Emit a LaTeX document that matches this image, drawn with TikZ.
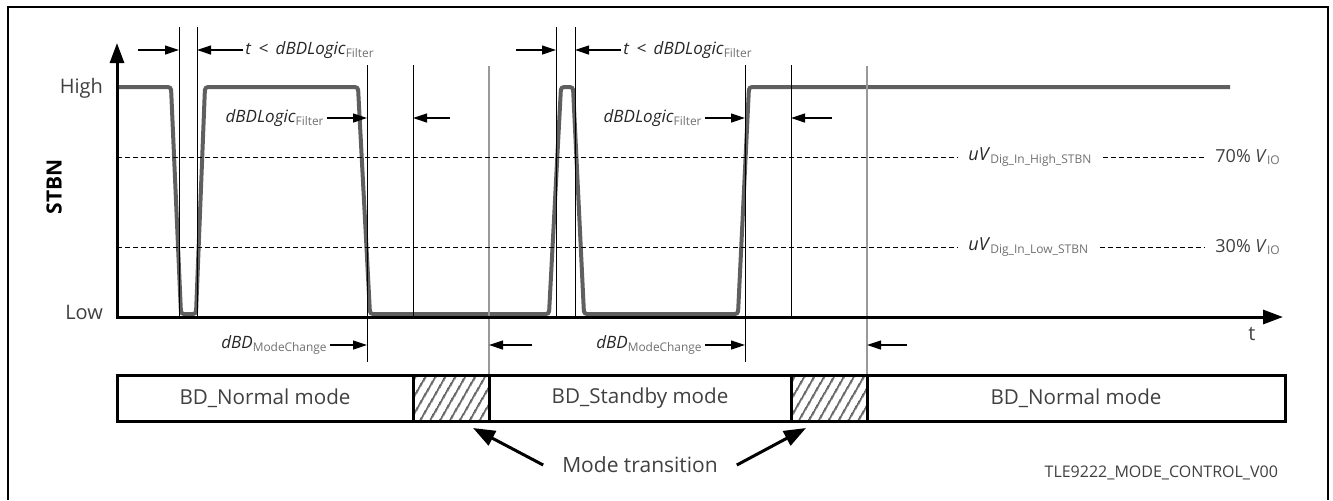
\documentclass[tikz,border=0pt]{standalone}
\usepackage{fontspec}
\setmainfont{Open Sans}
\usepackage{xcolor}
\usepackage{tikz}
\usetikzlibrary{arrows.meta,patterns.meta,positioning}

\definecolor{sigcol}{HTML}{5F5F5F}
\definecolor{txtcol}{HTML}{404040}
\definecolor{subcol}{HTML}{707070}
\newcommand{\lowsub}[1]{\textsubscript{\color{subcol}#1}}

\tikzset{
  sigline/.style={line width=2pt, sigcol, rounded corners=1.5pt},
  axisline/.style={line width=1.5pt, -{Triangle[length=10pt,width=7pt]}},
  marker/.style={line width=0.5pt},
  graymarker/.style={line width=0.6pt, black!40},
  dimarrow/.style={line width=0.6pt, -{Triangle[length=7pt,width=4.5pt]}},
  threshold/.style={line width=0.5pt, dash pattern=on 2.5pt off 1.5pt},
  lbl/.style={font=\fontsize{8.5}{10}\selectfont, text=black!85, inner sep=1pt},
  lvllbl/.style={lbl, font=\fontsize{9}{10}\selectfont, inner xsep=5pt, anchor=west},
  axlbl/.style={text=txtcol, font=\fontsize{10}{12}\selectfont},
  modebox/.style={draw, line width=1.5pt, minimum height=23pt, inner sep=0pt, outer sep=0pt,
    font=\fontsize{10.3}{12}\selectfont, text=txtcol},
  transbox/.style={modebox, pattern={Lines[angle=60,distance=4pt,line width=1.1pt]}, pattern color=black!60},
  bigarrow/.style={line width=1.5pt, -{Triangle[length=11pt,width=8pt]}}
}

\begin{document}
\begin{tikzpicture}[x=0.5pt, y=-0.5pt]
    \useasboundingbox (0,0) rectangle (1333,500);
    \draw[line width=1pt] (8,500) -- (8,7) -- (1328,7) -- (1328,500);

    % STBN signal
    \draw[sigline] (117,87) -- (171,87) -- (181,314) -- (196,314) -- (205,87) -- (358,87)
        -- (370,314) -- (549,314) -- (561,87) -- (573,87) -- (584,314) -- (738,314)
        -- (749,87) -- (1230,87);

    % time markers
    \foreach \x/\n in {179/ga, 197/gb, 556/gc, 575/gd}
        \draw[marker] (\x,27) coordinate (\n) -- (\x,317);
    \foreach \x/\n in {367/fa, 745/fc}
        \draw[marker] (\x,65) coordinate (\n) -- (\x,362);
    \foreach \x/\n in {413/fb, 791/fd}
        \draw[marker] (\x,65) coordinate (\n) -- (\x,317);
    \foreach \x/\n in {489/ta, 867/tb}
        \draw[graymarker] (\x,66) coordinate (\n) -- (\x,421);

    % axes
    \draw[axisline] (117,318) -- (117,43);
    \draw[axisline] (116,317) -- (1283,317);
    \node (high) [axlbl, anchor=east] at (110,88) {High};
    \node (low) [axlbl, anchor=east] at (110,312) {Low};
    \node (stbn) [rotate=90, font=\bfseries\fontsize{10.5}{12}\selectfont] at (54,187) {STBN};
    \node (tlbl) [axlbl] at (1252,334) {t};

    % threshold levels
    \node (hiname) [lvllbl] at (958,157) {\textit{uV}\lowsub{Dig\_In\_High\_STBN}};
    \node (hipct) [lvllbl, text=txtcol] at (1205,157) {70\% \textit{V}\lowsub{IO}};
    \draw[threshold] (117,157) -- (hiname.west);
    \draw[threshold] (hiname.east) -- (hipct.west);
    \node (loname) [lvllbl] at (958,247) {\textit{uV}\lowsub{Dig\_In\_Low\_STBN}};
    \node (lopct) [lvllbl, text=txtcol] at (1205,247) {30\% \textit{V}\lowsub{IO}};
    \draw[threshold] (117,247) -- (loname.west);
    \draw[threshold] (loname.east) -- (lopct.west);

    % filter times
    \node (glitchA) [lbl, anchor=west] at (243,50) {\textit{t} \,<\, \textit{dBDLogic}\lowsub{Filter}};
    \node (glitchB) [lbl, anchor=west] at (621,50) {\textit{t} \,<\, \textit{dBDLogic}\lowsub{Filter}};
    \draw[dimarrow] ([xshift=-20.5pt]ga |- glitchA) -- (ga |- glitchA);
    \draw[dimarrow] (glitchA.west) -- (gb |- glitchA);
    \draw[dimarrow] ([xshift=-20pt]gc |- glitchB) -- (gc |- glitchB);
    \draw[dimarrow] (glitchB.west) -- (gd |- glitchB);

    \node (filtA) [lbl, anchor=east] at (327,118) {\textit{dBDLogic}\lowsub{Filter}};
    \node (filtB) [lbl, anchor=east] at (705,118) {\textit{dBDLogic}\lowsub{Filter}};
    \draw[dimarrow] (filtA.east) -- (fa |- filtA);
    \draw[dimarrow] ([xshift=18.5pt]fb |- filtA) -- (fb |- filtA);
    \draw[dimarrow] (filtB.east) -- (fc |- filtB);
    \draw[dimarrow] ([xshift=20.5pt]fd |- filtB) -- (fd |- filtB);

    % mode change times
    \node (mcA) [lbl, anchor=east] at (330,345) {\textit{dBD}\lowsub{ModeChange}};
    \node (mcB) [lbl, anchor=east] at (705,345) {\textit{dBD}\lowsub{ModeChange}};
    \draw[dimarrow] (mcA.east) -- (fa |- mcA);
    \draw[dimarrow] ([xshift=21.5pt]ta |- mcA) -- (ta |- mcA);
    \draw[dimarrow] (mcB.east) -- (fc |- mcB);
    \draw[dimarrow] ([xshift=20pt]tb |- mcB) -- (tb |- mcB);

    % mode bar
    \node (normA) [modebox, minimum width=148pt] at (265,398) {BD\_Normal mode};
    \node (transA) [transbox, minimum width=38pt] at (451,398) {};
    \node (stby) [modebox, minimum width=151pt] at (640,398) {BD\_Standby mode};
    \node (transB) [transbox, minimum width=38pt] at (829,398) {};
    \node (normB) [modebox, minimum width=209pt] at (1076,398) {BD\_Normal mode};

    \node (modetr) [text=txtcol, font=\fontsize{10.5}{12}\selectfont] at (640,465) {Mode transition};
    \draw[bigarrow] ([xshift=-6pt]modetr.west) -- ([xshift=11pt,yshift=-3.5pt]transA.south);
    \draw[bigarrow] ([xshift=6pt]modetr.east) -- ([xshift=-11.5pt,yshift=-3.5pt]transB.south);

    \node (docid) [anchor=east, text=txtcol, font=\fontsize{8}{10}\selectfont] at (1285,473) {TLE9222\_MODE\_CONTROL\_V00};
\end{tikzpicture}
\end{document}
